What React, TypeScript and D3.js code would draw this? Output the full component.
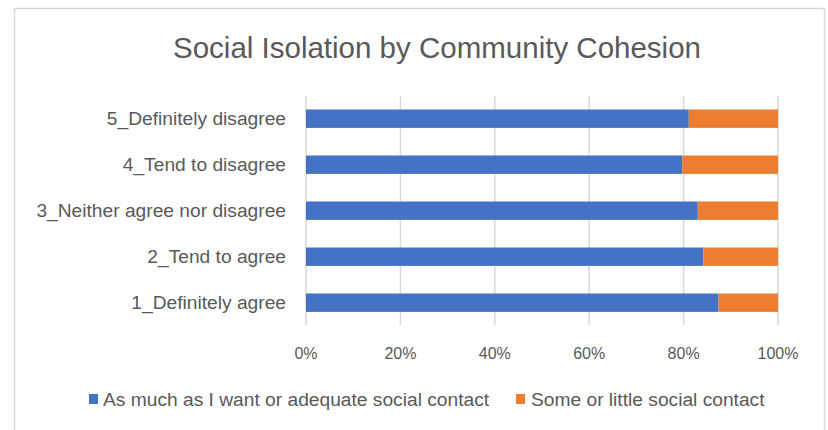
import React from "react";
import * as d3 from "d3";

const categories = [
  "5_Definitely disagree",
  "4_Tend to disagree",
  "3_Neither agree nor disagree",
  "2_Tend to agree",
  "1_Definitely agree",
];
const adequateValues = [81.1, 79.7, 83.0, 84.2, 87.4];
const littleValues = adequateValues.map((v) => 100 - v);
const seriesNames = ["As much as I want or adequate social contact", "Some or little social contact"];
const xTicks = [0, 20, 40, 60, 80, 100];
const title = "Social Isolation by Community Cohesion";

const W = 828;
const H = 430;
const COLORS = ["#4472C4", "#ED7D31"];
const FONT = "'Liberation Sans', Arial, sans-serif";
const TEXT = "#595959";

export default function App() {
  const x = d3.scaleLinear().domain([0, 100]).range([306, 778]);
  const y = d3.scaleBand().domain(categories).range([95.7, 325.7]).paddingInner(0.6).paddingOuter(0.3);
  const stacked = categories.map((c, i) => ({ c, a: adequateValues[i], b: littleValues[i] }));
  return (
    <svg width={W} height={H} style={{ position: "absolute", left: 0, top: 0, background: "#fff" }}>
      <rect x={0} y={0} width={W} height={H} fill="#fff" />
      <rect x={14.5} y={8.5} width={810} height={440} fill="none" stroke="#D9D9D9" strokeWidth={1.5} />
      <text x={437} y={58} textAnchor="middle" fontFamily={FONT} fontSize={29.5} fill={TEXT}>{title}</text>
      {xTicks.map((t) => (
        <g key={t}>
          <line x1={x(t)} x2={x(t)} y1={95.7} y2={325} stroke="#D9D9D9" strokeWidth={1.5} />
          <text x={x(t)} y={359} textAnchor="middle" fontFamily={FONT} fontSize={16} fill={TEXT}>{t}%</text>
        </g>
      ))}
      {stacked.map((d) => (
        <g key={d.c}>
          <rect x={x(0)} y={y(d.c)} width={x(d.a) - x(0)} height={y.bandwidth()} fill={COLORS[0]} />
          <rect x={x(d.a)} y={y(d.c)} width={x(d.a + d.b) - x(d.a)} height={y.bandwidth()} fill={COLORS[1]} />
          <text x={286} y={(y(d.c) as number) + y.bandwidth() / 2} dy="0.35em" textAnchor="end" fontFamily={FONT} fontSize={19.2} fill={TEXT}>{d.c}</text>
        </g>
      ))}
      <rect x={89} y={394} width={9} height={10} fill={COLORS[0]} />
      <text x={103} y={399} dy="0.35em" fontFamily={FONT} fontSize={19.2} fill={TEXT}>{seriesNames[0]}</text>
      <rect x={516} y={394} width={9} height={10} fill={COLORS[1]} />
      <text x={531} y={399} dy="0.35em" fontFamily={FONT} fontSize={19.2} fill={TEXT}>{seriesNames[1]}</text>
    </svg>
  );
}
